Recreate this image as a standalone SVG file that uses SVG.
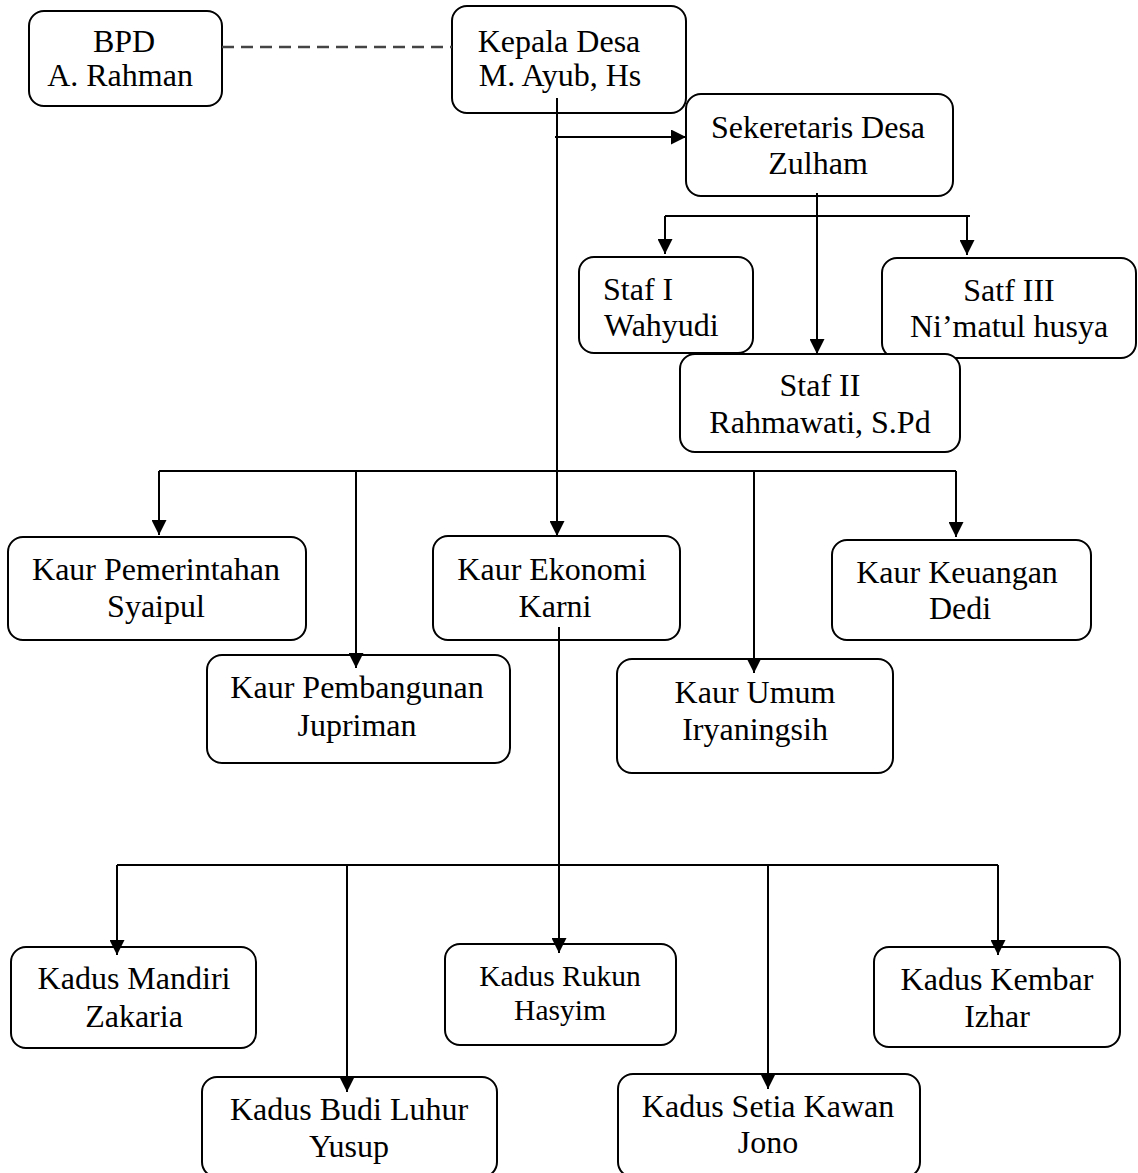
<svg xmlns="http://www.w3.org/2000/svg" width="1138" height="1173" viewBox="0 0 1138 1173">
<style>
.box{fill:#fff;stroke:#000;stroke-width:2}
text{font-family:"Liberation Serif","Times New Roman",serif;font-size:32px;fill:#000;text-anchor:middle}
.l{text-anchor:start}
.sm{font-size:29.5px}
.c{stroke:#000;stroke-width:2;fill:none}
.a{marker-end:url(#ah)}
.d{stroke:#444;stroke-width:2.5;stroke-dasharray:12 7;fill:none}
</style>
<defs>
<marker id="ah" markerWidth="15" markerHeight="15" refX="15" refY="7.5" orient="auto" markerUnits="userSpaceOnUse"><path d="M0,0 L15,7.5 L0,15 Z" fill="#000"/></marker>
</defs>
<rect width="1138" height="1173" fill="#fff"/>
<g id="bpd"><rect class="box" x="29" y="11" width="193" height="95" rx="15"/><text x="124" y="52">BPD</text><text x="120" y="86">A. Rahman</text></g>
<g id="kepala"><rect class="box" x="452" y="6" width="234" height="107" rx="15"/><text x="559" y="52">Kepala Desa</text><text x="560" y="86">M. Ayub, Hs</text></g>
<g id="sekretaris"><rect class="box" x="686" y="94" width="267" height="102" rx="15"/><text x="818" y="138">Sekeretaris Desa</text><text x="818" y="174">Zulham</text></g>
<g id="staf1"><rect class="box" x="579" y="257" width="174" height="96" rx="15"/><text class="l" x="603" y="300">Staf I</text><text class="l" x="604" y="336">Wahyudi</text></g>
<g id="staf3"><rect class="box" x="882" y="258" width="254" height="100" rx="15"/><text x="1009" y="301">Satf III</text><text x="1009" y="337">Ni’matul husya</text></g>
<g id="staf2"><rect class="box" x="680" y="354" width="280" height="98" rx="15"/><text x="820" y="396">Staf II</text><text x="820" y="433">Rahmawati, S.Pd</text></g>
<g id="kaur-pemerintahan"><rect class="box" x="8" y="537" width="298" height="103" rx="15"/><text x="156" y="580">Kaur Pemerintahan</text><text x="156" y="617">Syaipul</text></g>
<g id="kaur-ekonomi"><rect class="box" x="433" y="536" width="247" height="104" rx="15"/><text x="552" y="580">Kaur Ekonomi</text><text x="555" y="617">Karni</text></g>
<g id="kaur-keuangan"><rect class="box" x="832" y="540" width="259" height="100" rx="15"/><text x="957" y="583">Kaur Keuangan</text><text x="960" y="619">Dedi</text></g>
<g id="kaur-pembangunan"><rect class="box" x="207" y="655" width="303" height="108" rx="15"/><text x="357" y="698">Kaur Pembangunan</text><text x="357" y="736">Jupriman</text></g>
<g id="kaur-umum"><rect class="box" x="617" y="659" width="276" height="114" rx="15"/><text x="755" y="703">Kaur Umum</text><text x="755" y="740">Iryaningsih</text></g>
<g id="kadus-mandiri"><rect class="box" x="11" y="947" width="245" height="101" rx="15"/><text x="134" y="989">Kadus Mandiri</text><text x="134" y="1027">Zakaria</text></g>
<g id="kadus-rukun"><rect class="box" x="445" y="944" width="231" height="101" rx="15"/><text class="sm" x="560" y="986">Kadus Rukun</text><text class="sm" x="560" y="1020">Hasyim</text></g>
<g id="kadus-kembar"><rect class="box" x="874" y="947" width="246" height="100" rx="15"/><text x="997" y="990">Kadus Kembar</text><text x="997" y="1027">Izhar</text></g>
<g id="kadus-budi-luhur"><rect class="box" x="202" y="1077" width="295" height="100" rx="15"/><text x="349" y="1120">Kadus Budi Luhur</text><text x="349" y="1157">Yusup</text></g>
<g id="kadus-setia-kawan"><rect class="box" x="618" y="1074" width="302" height="103" rx="15"/><text x="768" y="1117">Kadus Setia Kawan</text><text x="768" y="1153">Jono</text></g>
<g id="connectors">
<line class="d" x1="222" y1="47" x2="452" y2="47"/>
<line class="c a" x1="557" y1="98" x2="557" y2="536"/>
<line class="c a" x1="555" y1="137" x2="686" y2="137"/>
<line class="c a" x1="817" y1="193" x2="817" y2="354"/>
<line class="c" x1="665" y1="216" x2="970" y2="216"/>
<line class="c a" x1="665" y1="216" x2="665" y2="254"/>
<line class="c a" x1="967" y1="216" x2="967" y2="255"/>
<line class="c" x1="159" y1="471" x2="956" y2="471"/>
<line class="c a" x1="159" y1="471" x2="159" y2="535"/>
<line class="c a" x1="356" y1="471" x2="356" y2="668"/>
<line class="c a" x1="754" y1="471" x2="754" y2="673"/>
<line class="c a" x1="956" y1="471" x2="956" y2="537"/>
<line class="c a" x1="559" y1="627" x2="559" y2="953"/>
<line class="c" x1="117" y1="865" x2="998" y2="865"/>
<line class="c a" x1="117" y1="865" x2="117" y2="955"/>
<line class="c a" x1="347" y1="865" x2="347" y2="1092"/>
<line class="c a" x1="768" y1="865" x2="768" y2="1089"/>
<line class="c a" x1="998" y1="865" x2="998" y2="955"/>
</g>
</svg>
